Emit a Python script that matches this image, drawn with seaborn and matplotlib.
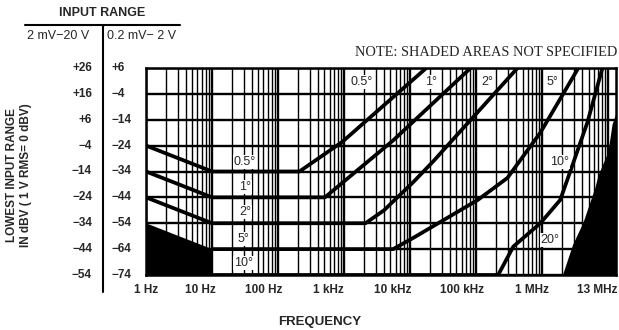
import numpy as np
import pandas as pd
import seaborn as sns
import matplotlib.pyplot as plt
from matplotlib.ticker import FixedLocator, LogLocator, NullFormatter
from matplotlib.lines import Line2D

# ---- datos ----
# columnas del eje y (las dos escalas de entrada)
niveles_altos = ["+26", "+16", "+6", "−4", "−14", "−24", "−34", "−44", "−54"]
niveles_bajos = [6, -4, -14, -24, -34, -44, -54, -64, -74]
etiquetas_bajos = ["+6", "−4", "−14", "−24", "−34", "−44", "−54", "−64", "−74"]

frec_ticks = [1, 10, 100, 1e3, 1e4, 1e5, 1e6, 13e6]
frec_etiquetas = ["1 Hz", "10 Hz", "100 Hz", "1 kHz", "10 kHz", "100 kHz", "1 MHz", "13 MHz"]

# curvas de error de fase (frecuencia en Hz, nivel en dBV de la escala baja)
f_05 = [1, 10, 210, 930, 17500]
db_05 = [-24, -34, -34, -22.6, 6]
f_1 = [1, 10, 510, 5500, 82000]
db_1 = [-34, -44, -44, -22, 6]
f_2 = [1, 10, 2100, 4000, 11200, 22400, 420000]
db_2 = [-44, -54, -54, -49, -38, -30, 6]
f_5 = [10, 5500, 11200, 105000, 295000, 930000, 3500000]
db_5 = [-64, -64, -59.6, -45, -36.5, -19, 6]
f_10 = [10, 214000, 363000, 930000, 1860000, 2900000, 4800000, 8100000]
db_10 = [-74, -74, -63, -54, -45, -31, -15, 6]

# zonas sombreadas (no especificadas)
sombra_izq_f = [1, 10, 10, 1]
sombra_izq_db = [-54, -64, -74, -74]
sombra_der_f = [2.05e6, 2.9e6, 4.2e6, 6.3e6, 7.1e6, 10e6, 11.5e6, 13e6, 13e6]
sombra_der_db = [-74, -62.5, -53.7, -40.5, -35.5, -26.5, -16, -12, -74]

# rotulos de grados dentro del grafico
rot_texto = ["0.5°", "1°", "2°", "5°", "10°", "0.5°", "1°", "2°", "5°", "10°", "20°"]
rot_f = [31.5, 31.5, 31.5, 30, 30, 1860, 21000, 145000, 1.4e6, 1.85e6, 1.3e6]
rot_db = [-30.3, -40, -49.7, -60, -69.4, 0.6, 0.6, 0.6, 0.6, -30.3, -60.5]

filas = []
for nombre, fs, dbs in [("0.5", f_05, db_05), ("1", f_1, db_1), ("2", f_2, db_2),
                        ("5", f_5, db_5), ("10", f_10, db_10)]:
    for f, d in zip(fs, dbs):
        filas.append({"curva": nombre, "frecuencia": f, "nivel": d})
df = pd.DataFrame(filas)

# ---- grafico ----
sns.set_style("white")
plt.rcParams["font.family"] = ["Liberation Sans", "DejaVu Sans"]

W, H = 619, 330
fig = plt.figure(figsize=(W / 100, H / 100), dpi=100)
ax = fig.add_axes([146 / W, 1 - 275 / H, 470 / W, 207 / H])

sns.lineplot(data=df, x="frecuencia", y="nivel", units="curva", estimator=None,
             sort=False, color="black", linewidth=2.7, ax=ax, legend=False,
             zorder=3, solid_capstyle="butt")

ax.fill(sombra_izq_f, sombra_izq_db, color="black", lw=0, zorder=2)
ax.fill(sombra_der_f, sombra_der_db, color="black", lw=0, zorder=2)

ax.set_xscale("log")
ax.set_xlim(1, 13e6)
ax.set_ylim(-74, 6)
ax.xaxis.set_major_locator(FixedLocator([1, 10, 100, 1e3, 1e4, 1e5, 1e6, 1e7]))
ax.xaxis.set_minor_locator(LogLocator(base=10, subs=np.arange(2, 10), numticks=30))
ax.xaxis.set_minor_formatter(NullFormatter())
ax.yaxis.set_major_locator(FixedLocator(niveles_bajos))
ax.set_axisbelow(True)
ax.grid(which="major", color="black", lw=1.7)
ax.grid(which="minor", axis="x", color="black", lw=1.0)
ax.tick_params(which="both", length=0, labelbottom=False, labelleft=False)
ax.set_xlabel("")
ax.set_ylabel("")
for s in ax.spines.values():
    s.set_color("black")
    s.set_linewidth(1.8)

for t, f, d in zip(rot_texto, rot_f, rot_db):
    ax.text(f, d, t, ha="center", va="center", fontsize=9, zorder=4,
            bbox=dict(facecolor="white", edgecolor="none", pad=0.6))

# etiquetas del eje x (desplazadas como en el original)
desplaz = [0, -12, -14, -16, -18, -14, -10, -19]
for f, t, dx in zip(frec_ticks, frec_etiquetas, desplaz):
    ax.annotate(t, xy=(f, 0), xycoords=("data", "axes fraction"),
                xytext=(dx, -15), textcoords="offset pixels",
                ha="center", va="center", fontsize=8.5, fontweight="bold")

# las dos columnas del eje y
for d, ta, tb in zip(niveles_bajos, niveles_altos, etiquetas_bajos):
    ax.annotate(ta, xy=(0, d), xycoords=("axes fraction", "data"),
                xytext=(92 - 146, 0), textcoords="offset pixels",
                ha="right", va="center", fontsize=8.5, fontweight="bold")
    ax.annotate(tb, xy=(0, d), xycoords=("axes fraction", "data"),
                xytext=(112 - 146, 0), textcoords="offset pixels",
                ha="left", va="center", fontsize=8.5, fontweight="bold")

def px(x, y):
    return x / W, 1 - y / H

fig.add_artist(Line2D([103 / W, 103 / W], [1 - 25 / H, 1 - 292 / H], color="black", lw=1.5))
fig.add_artist(Line2D([25 / W, 180 / W], [1 - 25 / H, 1 - 25 / H], color="black", lw=1.5))
fig.text(*px(102, 13), "INPUT RANGE", ha="center", va="center", fontsize=9, fontweight="bold")
fig.text(*px(58, 36), "2 mV−20 V", ha="center", va="center", fontsize=9)
fig.text(*px(107, 36), "0.2 mV− 2 V", ha="left", va="center", fontsize=9)
fig.text(*px(617, 52), "NOTE: SHADED AREAS NOT SPECIFIED", ha="right", va="center",
         fontsize=10.4, family="Liberation Serif")
fig.text(*px(19, 175), "LOWEST INPUT RANGE\nIN dBV ( 1 V RMS= 0 dBV)", rotation=90,
         ha="center", va="center", fontsize=8.5, fontweight="bold", linespacing=1.15,
         multialignment="center")
fig.text(*px(320, 322), "FREQUENCY", ha="center", va="center", fontsize=9.5, fontweight="bold")

fig.savefig("out.png", dpi=100, facecolor="white")
